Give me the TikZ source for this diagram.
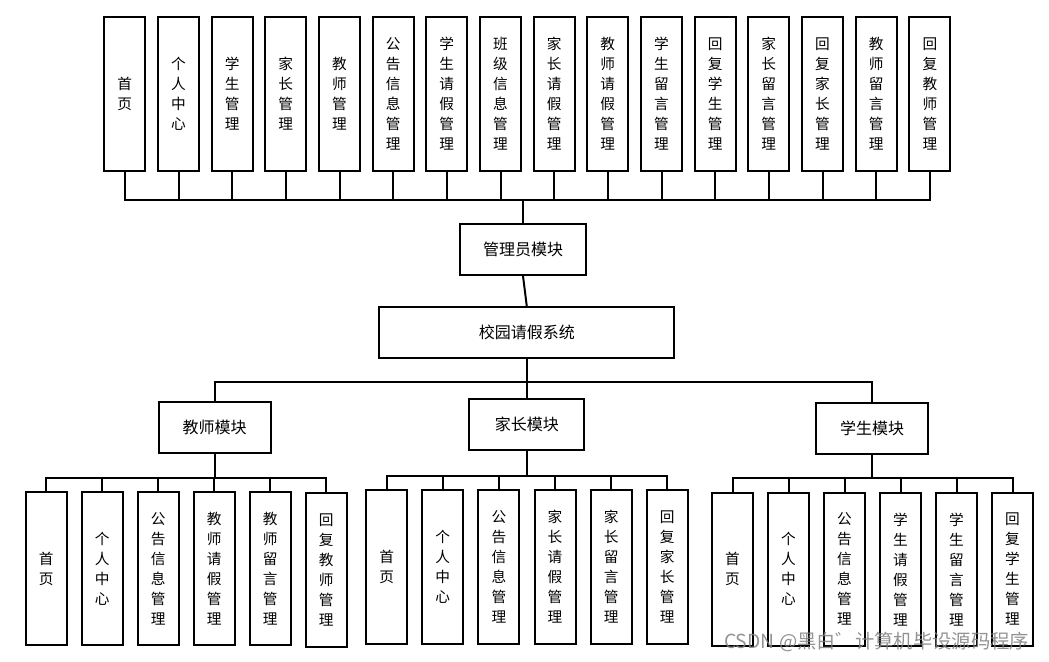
\documentclass[tikz,border=0pt]{standalone}
\usepackage{fontspec}
\setmainfont{Noto Sans CJK SC}
\usetikzlibrary{calc}

\tikzset{
	item/.style={draw, line width=1.5pt, minimum width=30.75pt, minimum height=115pt, inner sep=0pt, align=center, font=\fontsize{11}{15}\selectfont},
	module/.style={draw, line width=1.5pt, minimum height=38.25pt, inner sep=0pt, font=\fontsize{12}{14}\selectfont},
	link/.style={line width=1.5pt}
}

\begin{document}
\begin{tikzpicture}[x=0.75pt, y=-0.75pt]
		%picture size (pixels of the reference)
		\useasboundingbox (0,0) rectangle (1049,661);
		
		%definition of bus heights
		\def\yTOP{200};
		\def\yMID{382.3};
		\def\yLOW{477.7};
		
		%admin functions
		\node [item] (a1) at (124.8,94) {首\\页};
		\node [item] (a2) at (178.5,94) {个\\人\\中\\心};
		\node [item] (a3) at (232.1,94) {学\\生\\管\\理};
		\node [item] (a4) at (285.8,94) {家\\长\\管\\理};
		\node [item] (a5) at (339.5,94) {教\\师\\管\\理};
		\node [item] (a6) at (393.2,94) {公\\告\\信\\息\\管\\理};
		\node [item] (a7) at (446.8,94) {学\\生\\请\\假\\管\\理};
		\node [item] (a8) at (500.5,94) {班\\级\\信\\息\\管\\理};
		\node [item] (a9) at (554.2,94) {家\\长\\请\\假\\管\\理};
		\node [item] (a10) at (607.8,94) {教\\师\\请\\假\\管\\理};
		\node [item] (a11) at (661.5,94) {学\\生\\留\\言\\管\\理};
		\node [item] (a12) at (715.2,94) {回\\复\\学\\生\\管\\理};
		\node [item] (a13) at (768.8,94) {家\\长\\留\\言\\管\\理};
		\node [item] (a14) at (822.5,94) {回\\复\\家\\长\\管\\理};
		\node [item] (a15) at (876.2,94) {教\\师\\留\\言\\管\\理};
		\node [item] (a16) at (929.9,94) {回\\复\\教\\师\\管\\理};
		
		%modules
		\node [module, minimum width=94.5pt] (admin) at (523,249.5) {管理员模块};
		\node [module, minimum width=221pt] (system) at (526.8,332.8) {校园请假系统};
		\node [module, minimum width=84pt] (teacher) at (214.5,427.7) {教师模块};
		\node [module, minimum width=86pt] (parent) at (526.8,424.5) {家长模块};
		\node [module, minimum width=84pt] (student) at (872,428) {学生模块};
		
		%teacher functions
		\node [item] (t1) at (46.3,568.7) {首\\页};
		\node [item] (t2) at (102.3,568.7) {个\\人\\中\\心};
		\node [item] (t3) at (158.3,568.7) {公\\告\\信\\息\\管\\理};
		\node [item] (t4) at (214.3,568.7) {教\\师\\请\\假\\管\\理};
		\node [item] (t5) at (270.3,568.7) {教\\师\\留\\言\\管\\理};
		\node [item] (t6) at (326.3,570) {回\\复\\教\\师\\管\\理};
		
		%parent functions
		\node [item] (p1) at (386.7,567) {首\\页};
		\node [item] (p2) at (442.8,567) {个\\人\\中\\心};
		\node [item] (p3) at (498.9,567) {公\\告\\信\\息\\管\\理};
		\node [item] (p4) at (555,567) {家\\长\\请\\假\\管\\理};
		\node [item] (p5) at (611.1,567) {家\\长\\留\\言\\管\\理};
		\node [item] (p6) at (667.2,567) {回\\复\\家\\长\\管\\理};
		
		%student functions
		\node [item] (s1) at (732.5,569.2) {首\\页};
		\node [item] (s2) at (788.5,569.2) {个\\人\\中\\心};
		\node [item] (s3) at (844.5,569.2) {公\\告\\信\\息\\管\\理};
		\node [item] (s4) at (900.5,569.2) {学\\生\\请\\假\\管\\理};
		\node [item] (s5) at (956.5,569.2) {学\\生\\留\\言\\管\\理};
		\node [item] (s6) at (1012.5,569.2) {回\\复\\学\\生\\管\\理};
		
		%buses
		\coordinate (top bus) at (admin.north |- 0,\yTOP);
		\coordinate (mid bus) at (system.south |- 0,\yMID);
		\coordinate (teacher bus) at (teacher.south |- 0,\yLOW);
		\coordinate (parent bus) at (parent.south |- 0,475.7);
		\coordinate (student bus) at (student.south |- 0,\yLOW);
		
		%connectors
		\foreach \i in {1,...,16} \draw [link] (a\i.south) |- (top bus);
		\draw [link] (admin.north) -- (top bus);
		\draw [link] (admin.south) -- (system.north);
		\draw [link] (system.south) -- (mid bus);
		\draw [link] (teacher.north) |- (mid bus);
		\draw [link] (parent.north) -- (mid bus);
		\draw [link] (student.north) |- (mid bus);
		\draw [link] (teacher.south) -- (teacher bus);
		\draw [link] (parent.south) -- (parent bus);
		\draw [link] (student.south) -- (student bus);
		\foreach \i in {1,...,6} {
			\draw [link] (t\i.north) |- (teacher bus);
			\draw [link] (p\i.north) |- (parent bus);
			\draw [link] (s\i.north) |- (student bus);
		}
		
		%watermark
		\node [anchor=east, text=gray, opacity=0.85, font=\fontsize{14.5}{16}\selectfont] (mark) at (1034,642) {CSDN @黑白゛计算机毕设源码程序};
	\end{tikzpicture}
\end{document}
